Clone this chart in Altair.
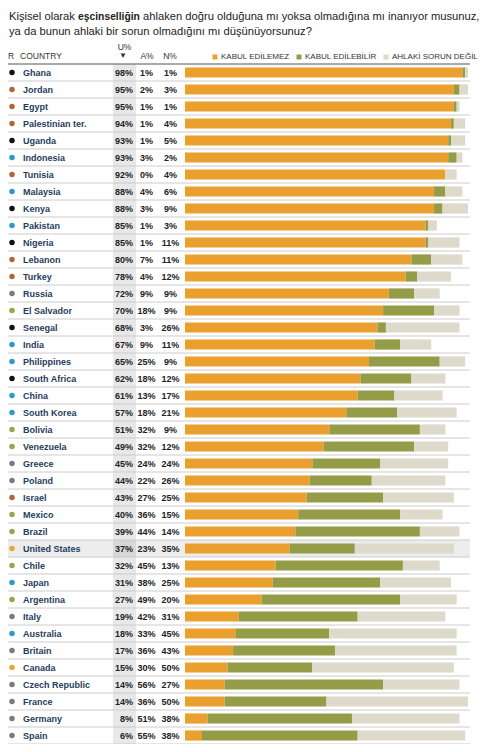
import altair as alt
import pandas as pd

countries = ["Ghana", "Jordan", "Egypt", "Palestinian ter.", "Uganda", "Indonesia", "Tunisia",
             "Malaysia", "Kenya", "Pakistan", "Nigeria", "Lebanon", "Turkey", "Russia",
             "El Salvador", "Senegal", "India", "Philippines", "South Africa", "China",
             "South Korea", "Bolivia", "Venezuela", "Greece", "Poland", "Israel", "Mexico",
             "Brazil", "United States", "Chile", "Japan", "Argentina", "Italy", "Australia",
             "Britain", "Canada", "Czech Republic", "France", "Germany", "Spain"]
regions = ["AF", "ME", "ME", "ME", "AF", "AS", "ME", "AS", "AF", "AS", "AF", "ME", "ME", "EU",
           "LA", "AF", "AS", "AS", "AF", "AS", "AS", "LA", "LA", "EU", "EU", "ME", "LA",
           "LA", "NA", "LA", "AS", "LA", "EU", "AS", "EU", "NA", "EU", "EU", "EU", "EU"]
unacceptable = [98, 95, 95, 94, 93, 93, 92, 88, 88, 85, 85, 80, 78, 72, 70, 68, 67, 65, 62, 61,
                57, 51, 49, 45, 44, 43, 40, 39, 37, 32, 31, 27, 19, 18, 17, 15, 14, 14, 8, 6]
acceptable = [1, 2, 1, 1, 1, 3, 0, 4, 3, 1, 1, 7, 4, 9, 18, 3, 9, 25, 18, 13,
              18, 32, 32, 24, 22, 27, 36, 44, 23, 45, 38, 49, 42, 33, 36, 30, 56, 36, 51, 55]
not_moral = [1, 3, 1, 4, 5, 2, 4, 6, 9, 3, 11, 11, 12, 9, 9, 26, 11, 9, 12, 17,
             21, 9, 12, 24, 26, 25, 15, 14, 35, 13, 25, 20, 31, 45, 43, 50, 27, 50, 38, 38]

seg_names = ["KABUL EDİLEMEZ", "KABUL EDİLEBİLİR", "AHLAKİ SORUN DEĞİL"]
seg_colors = ["#E9A02F", "#959C48", "#DDD9CB"]
region_colors = {"AF": "#111111", "ME": "#B0653A", "AS": "#2A9AC9", "EU": "#7F7883",
                 "LA": "#9DA152", "NA": "#E2AA35"}
highlight = "United States"

title_a = "Kişisel olarak"
title_b = "eşcinselliğin"
title_c = "ahlaken doğru olduğuna mı yoksa olmadığına mı inanıyor musunuz,"
title_2 = "ya da bunun ahlaki bir sorun olmadığını mı düşünüyorsunuz?"

FONT = "Liberation Sans"
TSIZE = 11.2
BSIZE = 10.3
n = len(countries)

rows = pd.DataFrame({
    "country": countries,
    "region": regions,
    "u": unacceptable,
    "a": acceptable,
    "n": not_moral,
})
rows["idx"] = range(n)
rows["yc"] = rows["idx"] + 0.5
rows["ytop"] = rows["idx"]
rows["ybot"] = rows["idx"] + 1
rows["dot"] = rows["region"].map(region_colors)
rows["u_lbl"] = rows["u"].astype(str) + "%"
rows["a_lbl"] = rows["a"].astype(str) + "%"
rows["n_lbl"] = rows["n"].astype(str) + "%"

long = []
for _, r in rows.iterrows():
    start = 0
    for k, (name, v) in enumerate(zip(seg_names, (r["u"], r["a"], r["n"]))):
        long.append({"country": r["country"], "seg": name, "k": k,
                     "x0": start, "x1": start + v,
                     "bt": r["idx"] + 0.2, "bb": r["idx"] + 0.8})
        start += v
bars_df = pd.DataFrame(long)

yscale = alt.Scale(domain=[0, n], range=[56, 736])
xscale = alt.Scale(domain=[0, 100], range=[177, 460])

base_rows = alt.Chart(rows)

us_band = base_rows.transform_filter(alt.datum.country == highlight).mark_rect(
    color="#EDEDED").encode(
    x=alt.value(0), x2=alt.value(462),
    y=alt.Y("ytop:Q", scale=yscale, axis=None), y2="ybot:Q")

col_bg = alt.Chart(pd.DataFrame({"y0": [0], "y1": [n]})).mark_rect(
    color="#000000", opacity=0.09).encode(
    x=alt.value(105), x2=alt.value(128),
    y=alt.Y("y0:Q", scale=yscale, axis=None), y2="y1:Q")

seps = base_rows.mark_rule(color="#CCCCCC", strokeWidth=1).encode(
    x=alt.value(0), x2=alt.value(462),
    y=alt.Y("ybot:Q", scale=yscale, axis=None))

head_line = alt.Chart(pd.DataFrame({"y": [0]})).mark_rule(color="#555555", strokeWidth=1).encode(
    x=alt.value(0), x2=alt.value(462),
    y=alt.Y("y:Q", scale=yscale, axis=None))

bars = alt.Chart(bars_df).mark_bar().encode(
    x=alt.X("x0:Q", scale=xscale, axis=None), x2="x1:Q",
    y=alt.Y("bt:Q", scale=yscale, axis=None), y2="bb:Q",
    color=alt.Color("seg:N", scale=alt.Scale(domain=seg_names, range=seg_colors),
                    legend=alt.Legend(title=None, orient="none", legendX=203, legendY=45,
                                      direction="horizontal", symbolType="square",
                                      symbolSize=25, symbolStrokeWidth=0,
                                      labelFontSize=8, labelFont=FONT, labelColor="#333333",
                                      labelOffset=2, columnPadding=5)),
    order=alt.Order("k:Q"))

dots = base_rows.mark_circle(size=30, opacity=1).encode(
    x=alt.value(4),
    y=alt.Y("yc:Q", scale=yscale, axis=None),
    fill=alt.Fill("dot:N", scale=None))

names = base_rows.mark_text(align="left", baseline="middle", font=FONT, fontSize=9,
                            fontWeight="bold", color="#1F3D5C").encode(
    x=alt.value(15), y=alt.Y("yc:Q", scale=yscale, axis=None), text="country:N")

def pct(field, xpos, align):
    return base_rows.mark_text(align=align, baseline="middle", font=FONT, fontSize=9,
                               fontWeight="bold", color="#222222").encode(
        x=alt.value(xpos), y=alt.Y("yc:Q", scale=yscale, axis=None), text=f"{field}:N")

u_txt = pct("u_lbl", 125, "right")
a_txt = pct("a_lbl", 138.5, "center")
n_txt = pct("n_lbl", 162.5, "center")

def label(text, x, y, align="left", size=8.5, weight="normal", color="#333333"):
    return alt.Chart(pd.DataFrame({"t": [text]})).mark_text(
        align=align, baseline="middle", font=FONT, fontSize=size, fontWeight=weight,
        color=color).encode(x=alt.value(x), y=alt.value(y), text="t:N")

headers = [
    label("R", 0, 48),
    label("COUNTRY", 12, 48),
    label("U%", 116.5, 39, align="center"),
    label("▼", 115, 48, align="center", size=8),
    label("A%", 139, 48, align="center"),
    label("N%", 162, 48, align="center"),
]

# widths of the title pieces (Arial/Liberation metrics, in em)
space = 0.278 * TSIZE
xa = 1
xb = xa + 5.89 * TSIZE + space
xc = xb + 6.003 * BSIZE + space
titles = [
    label(title_a, xa, 9, size=TSIZE, color="#222222"),
    label(title_b, xb, 9, size=BSIZE, weight="bold", color="#222222"),
    label(title_c, xc, 9, size=TSIZE, color="#222222"),
    label(title_2, xa, 24, size=TSIZE, color="#222222"),
]

chart = alt.layer(
    us_band, col_bg, seps, head_line, bars, dots, names, u_txt, a_txt, n_txt,
    *headers, *titles
).properties(
    width=472, height=736,
    autosize=alt.AutoSizeParams(type="none"),
    padding=0,
).configure_view(stroke=None)

chart.save("out.html", embed_options={"renderer": "svg", "actions": False})
